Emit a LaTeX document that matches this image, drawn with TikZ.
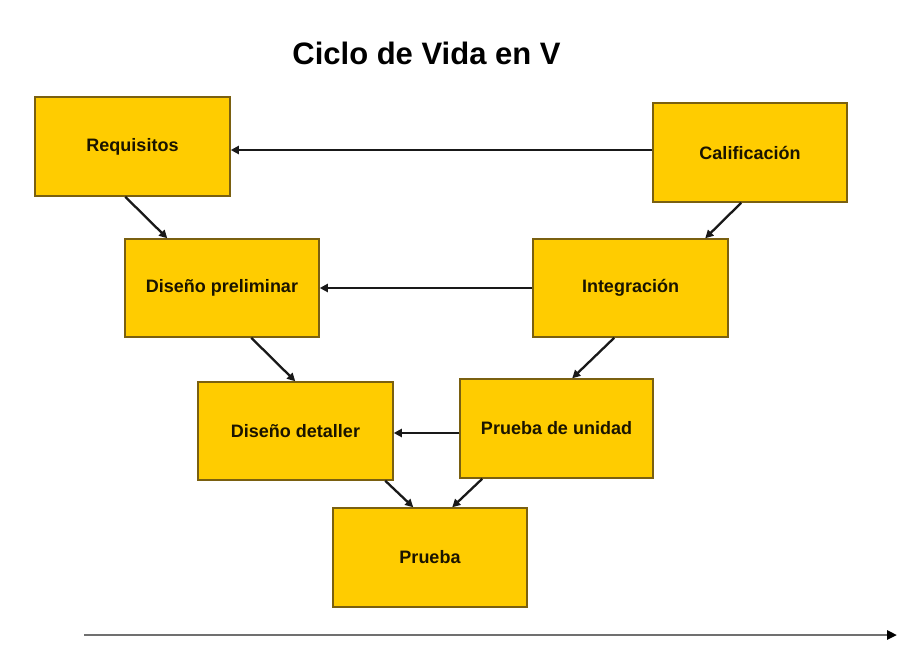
\documentclass[tikz,border=0pt]{standalone}
\usepackage{fontspec}
\setmainfont{Liberation Sans}
\usetikzlibrary{arrows.meta}
\definecolor{boxfill}{HTML}{FFCC00}
\definecolor{boxedge}{HTML}{7A6010}
\definecolor{txt}{HTML}{1A1400}
\definecolor{axisgray}{HTML}{707070}
\tikzset{
  stagebox/.style={draw=boxedge, line width=1.5pt, fill=boxfill, rectangle,
    minimum width=194pt, minimum height=98pt, inner sep=0pt,
    font=\fontsize{18}{20}\selectfont\bfseries, text=txt},
  arr/.style={draw=black!90, line width=2.3pt, -{Triangle[length=8pt,width=8pt]}},
  axisarr/.style={draw=axisgray, line width=2.6pt, -{Triangle[length=10pt,width=9pt,color=black]}}
}
\begin{document}
\begin{tikzpicture}[x=1pt,y=-1pt]
\useasboundingbox (0,0) rectangle (918,664);
\fill[white] (0,0) rectangle (918,664);
\node[font=\fontsize{31}{34}\selectfont\bfseries, text=black] (title) at (426.5,53) {Ciclo de Vida en V};

\node[stagebox, minimum width=195pt, minimum height=99pt] (req) at (132.5,146.5) {Requisitos};
\node[stagebox, minimum height=99pt] (cal) at (750,152.5) {Calificación};
\node[stagebox] (dp) at (222,288) {Diseño preliminar};
\node[stagebox, minimum width=195pt] (int) at (630.5,288) {Integración};
\node[stagebox, minimum width=195pt] (dd) at (295.5,431) {Diseño detaller};
\node[stagebox, minimum width=193pt, minimum height=99pt] (pu) at (556.5,428.5) {Prueba de unidad};
\node[stagebox, minimum height=99pt] (pr) at (430,557.5) {Prueba};

% horizontal connectors
\draw[arr] ([yshift=2.5pt]cal.west) -- ([yshift=2.5pt]cal.west -| req.east);
\draw[arr] (int.west) -- (int.west -| dp.east);
\draw[arr] ([yshift=-4.5pt]pu.west) -- ([yshift=-4.5pt]pu.west -| dd.east);

% diagonal connectors
\draw[arr] ([xshift=91pt]req.south west) -- ([xshift=43pt]dp.north west);
\draw[arr] ([xshift=89pt]cal.south west) -- ([xshift=173pt]int.north west);
\draw[arr] ([xshift=127pt]dp.south west) -- ([xshift=98pt]dd.north west);
\draw[arr] ([xshift=82pt]int.south west) -- ([xshift=113pt]pu.north west);
\draw[arr] ([xshift=188pt]dd.south west) -- ([xshift=81pt]pr.north west);
\draw[arr] ([xshift=23pt]pu.south west) -- ([xshift=120pt]pr.north west);

% time axis
\coordinate (axstart) at (84,635);
\coordinate (axend) at (897,635);
\draw[axisarr] (axstart) -- (axend);
\end{tikzpicture}
\end{document}
